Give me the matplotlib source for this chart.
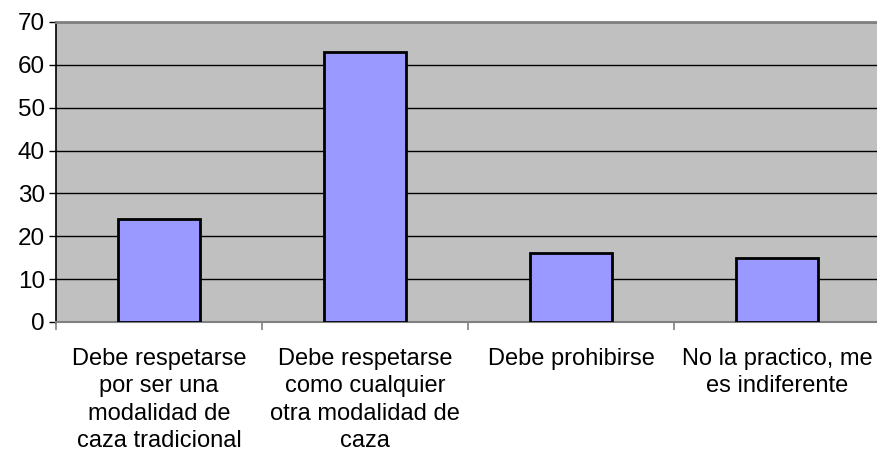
import matplotlib
matplotlib.use("Agg")
import matplotlib.pyplot as plt
import numpy as np

plt.rcParams['font.family'] = ['Liberation Sans', 'DejaVu Sans']

categories = [
    "Debe respetarse\npor ser una\nmodalidad de\ncaza tradicional",
    "Debe respetarse\ncomo cualquier\notra modalidad de\ncaza",
    "Debe prohibirse",
    "No la practico, me\nes indiferente",
]
values = [24, 63, 16, 15]
y_ticks = [0, 10, 20, 30, 40, 50, 60, 70]

W, H = 877, 459
fig = plt.figure(figsize=(W / 100, H / 100), dpi=100)
ax = fig.add_axes([56 / W, (H - 322) / H, 824 / W, 300 / H])
ax.set_facecolor('#C0C0C0')

x = np.arange(len(categories))
ax.bar(x, values, width=0.4, color='#9999FF', edgecolor='black', linewidth=2, zorder=3)

ax.set_xlim(-0.5, len(categories) - 0.5)
ax.set_ylim(0, 70)
ax.set_yticks(y_ticks)
ax.yaxis.grid(True, color='black', linewidth=1)
ax.set_axisbelow(True)

ax.set_xticks(x)
ax.set_xticklabels(categories, fontsize=17, linespacing=1.3, va='top')
ax.set_xticks(np.arange(len(categories) + 1) - 0.5, minor=True)
ax.tick_params(axis='x', which='major', length=0, pad=19)
ax.tick_params(axis='x', which='minor', length=6, width=1.2, color='#808080', direction='out')
ax.tick_params(axis='y', length=5, width=1, color='black', pad=3, labelsize=17.5)

ax.spines['top'].set_color('#808080')
ax.spines['top'].set_linewidth(2)
ax.spines['right'].set_visible(False)
ax.spines['bottom'].set_color('#808080')
ax.spines['bottom'].set_linewidth(1.5)
ax.spines['left'].set_color('black')
ax.spines['left'].set_linewidth(1.2)

fig.savefig('out.png', dpi=100)
